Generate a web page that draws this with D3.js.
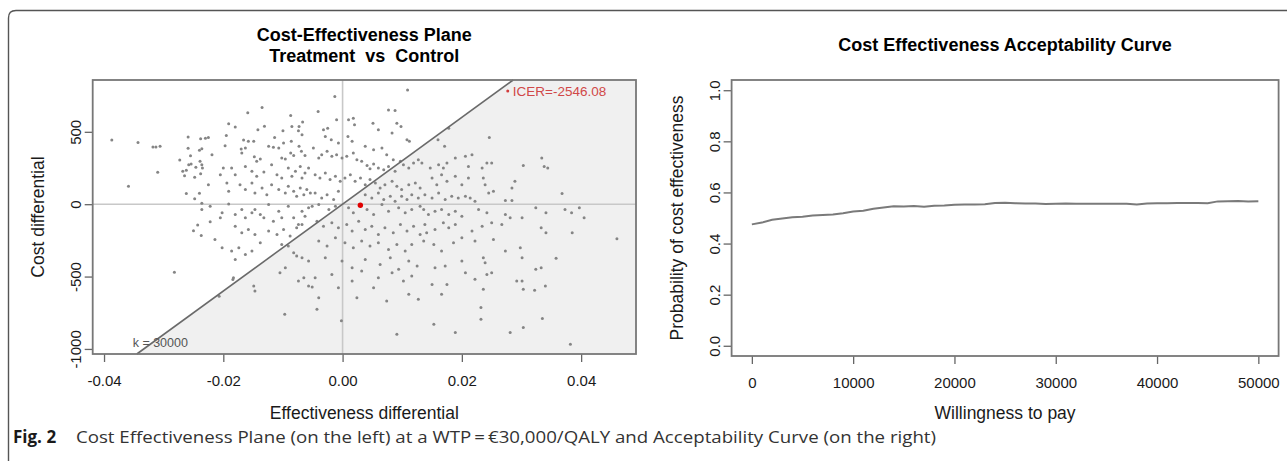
<!DOCTYPE html>
<html>
<head>
<meta charset="utf-8">
<script src="https://cdn.jsdelivr.net/npm/d3@7"></script>
<style>
  body { margin: 0; background: #fff; }
  text { font-family: "Liberation Sans", Arial, sans-serif; }
</style>
</head>
<body>
<div id="fig"></div>
<script>
// incremental effect / incremental cost pairs
var simDraws = [
  [-0.0387,443],[-0.0343,427],[-0.0318,395],[-0.0313,395],[-0.0306,400],[-0.031,220],[-0.0359,124],[-0.0259,464],
  [-0.0238,452],[-0.0259,386],[-0.024,372],[-0.0236,383],[-0.0255,335],[-0.0273,305],[-0.0258,273],[-0.0254,278],
  [-0.0239,296],[-0.0236,273],[-0.0268,227],[-0.0262,234],[-0.0246,255],[-0.0265,197],[-0.0248,186],[-0.0238,211],
  [-0.0262,73],[-0.024,76],[-0.0248,37],[-0.0236,7],[-0.0243,-143],[-0.025,-184],[-0.0237,-216],[-0.0282,-471],
  [-0.0135,668],[-0.0159,631],[-0.0191,555],[-0.018,534],[-0.0087,613],[-0.0142,514],[-0.0131,539],[-0.01,507],
  [-0.0085,537],[-0.0073,537],[-0.0067,567],[-0.023,455],[-0.0225,461],[-0.0195,475],[-0.0166,443],[-0.0158,434],
  [-0.0149,434],[-0.0114,461],[-0.0099,422],[-0.0086,434],[-0.0074,507],[-0.0068,479],[-0.0197,404],[-0.017,381],
  [-0.0163,388],[-0.0169,353],[-0.0148,328],[-0.0144,296],[-0.0138,312],[-0.0124,400],[-0.0116,393],[-0.0107,388],
  [-0.0102,319],[-0.0096,312],[-0.0087,353],[-0.0082,337],[-0.0073,400],[-0.0069,365],[-0.0063,337],[-0.0219,342],
  [-0.0235,250],[-0.0205,204],[-0.02,250],[-0.0186,250],[-0.018,204],[-0.0163,261],[-0.0152,227],[-0.0144,193],
  [-0.0132,222],[-0.0119,273],[-0.011,204],[-0.0102,181],[-0.0091,250],[-0.0085,193],[-0.0079,227],[-0.0071,261],
  [-0.0068,181],[-0.0063,216],[-0.0057,250],[-0.0225,135],[-0.0191,90],[-0.0194,147],[-0.0172,135],[-0.0163,101],
  [-0.0152,147],[-0.0147,78],[-0.0135,112],[-0.0127,66],[-0.0119,135],[-0.0107,101],[-0.0096,78],[-0.0091,124],
  [-0.0082,90],[-0.0077,55],[-0.0071,112],[-0.0065,66],[-0.006,101],[-0.0054,78],[-0.0236,-37],[-0.0222,-14],
  [-0.0202,-60],[-0.0191,2],[-0.018,-72],[-0.0169,-37],[-0.0163,-94],[-0.0152,-60],[-0.0147,-37],[-0.0138,-72],
  [-0.0132,-94],[-0.0124,-3],[-0.0116,-117],[-0.0107,-48],[-0.0102,-94],[-0.0091,-14],[-0.0082,-94],[-0.0074,-140],
  [-0.0068,-48],[-0.0063,-83],[-0.0057,-25],[-0.0222,-122],[-0.0205,-94],[-0.018,-152],[-0.0169,-198],[-0.0158,-175],
  [-0.0147,-209],[-0.0124,-186],[-0.011,-209],[-0.0099,-175],[-0.0088,-220],[-0.0077,-163],[-0.0068,-140],[-0.0214,-244],
  [-0.0202,-301],[-0.0186,-324],[-0.018,-382],[-0.0174,-301],[-0.0163,-347],[-0.0152,-324],[-0.0138,-267],[-0.0102,-278],
  [-0.0091,-289],[-0.0082,-335],[-0.0077,-358],[-0.0068,-370],[-0.0057,-393],[-0.0183,-508],[-0.0149,-565],[-0.0147,-599],
  [-0.0105,-473],[-0.0096,-439],[-0.0074,-530],[-0.0065,-508],[-0.0057,-565],[-0.0051,-572],[-0.0097,-760],[-0.0207,-636],
  [-0.0184,-521],
  [-0.0013,744],[0.0109,789],[-0.0041,640],[0.001,583],[0.0018,594],[0.002,548],[0.0077,651],[0.0088,647],
  [0.0051,560],[0.006,514],[0.0091,560],[0.0098,537],[-0.0032,514],[-0.0025,525],[-0.0029,468],[-0.0019,445],
  [-0.001,583],[-0.0007,422],[0.0009,468],[0.0016,434],[0.0083,491],[0.0108,445],[0.0112,434],[0.0038,400],
  [0.0052,376],[0.0066,388],[0.0074,342],[0.0085,307],[0.0097,296],[-0.0049,388],[-0.004,319],[-0.0035,342],
  [-0.0026,365],[-0.0018,331],[-0.001,342],[-0.0001,319],[0.0007,331],[0.0018,353],[0.0024,307],[0.0032,296],
  [0.0041,268],[0.0046,245],[0.0052,278],[0.006,250],[0.0069,238],[0.0077,261],[0.0088,227],[0.0102,273],
  [0.0111,250],[0.0119,284],[0.0127,307],[-0.0046,204],[-0.0038,181],[-0.0029,216],[-0.0021,170],[-0.0012,193],
  [-0.0004,158],[0.0004,181],[0.0013,204],[0.0021,158],[0.003,181],[0.0038,135],[0.0046,170],[0.0055,147],
  [0.0063,112],[0.0071,135],[0.0083,158],[0.0091,124],[0.0099,101],[0.0111,135],[0.0122,147],[0.013,112],
  [-0.0046,78],[-0.0035,43],[-0.0026,66],[-0.0015,32],[-0.0007,90],[0.0038,66],[0.0049,43],[0.006,78],
  [0.0069,32],[0.008,55],[0.0088,21],[0.0099,55],[0.0108,32],[0.0116,66],[0.0127,43],[-0.0051,-14],
  [-0.004,-3],[-0.0023,-37],[-0.0012,-14],[0.001,-25],[0.0018,-60],[0.0041,-37],[0.0052,-72],[0.0066,-3],
  [0.0077,-48],[0.0094,-25],[0.0105,-60],[0.0116,-37],[0.013,-14],[-0.0043,-117],[-0.0032,-152],[-0.0018,-129],
  [-0.0007,-163],[0.0007,-140],[0.0016,-186],[0.0027,-117],[0.0038,-175],[0.0049,-152],[0.006,-209],[0.0071,-163],
  [0.0085,-198],[0.0097,-140],[0.0108,-186],[0.0119,-152],[0.013,-209],[-0.004,-255],[-0.0026,-289],[-0.0012,-232],
  [0.0004,-267],[0.0018,-301],[0.0032,-255],[0.0046,-289],[0.006,-267],[0.0077,-313],[0.0091,-278],[0.0105,-324],
  [0.0116,-278],[-0.0029,-370],[-0.0001,-393],[0.0016,-439],[0.0038,-382],[0.0063,-416],[0.008,-370],[0.0094,-450],
  [0.0111,-393],[0.0125,-427],[-0.0046,-508],[-0.0018,-485],[0.0016,-530],[0.0032,-462],[0.006,-508],[0.0083,-473],
  [0.0102,-530],[0.0116,-496],[-0.004,-646],[-0.0007,-577],[0.0024,-646],[0.0052,-577],[0.0074,-668],[0.0111,-623],
  [0.0127,-657],[-0.0043,-726],[-0.0002,-806],[0.0091,-898],
  [0.0178,525],[0.016,445],[0.0171,400],[0.0246,461],[0.0133,284],[0.0147,250],[0.0161,273],[0.0169,250],
  [0.0175,284],[0.0189,319],[0.0206,331],[0.0217,342],[0.0211,261],[0.0234,250],[0.0242,284],[0.025,284],
  [0.0303,268],[0.015,181],[0.0158,135],[0.0166,204],[0.0175,158],[0.0189,193],[0.02,135],[0.0211,181],
  [0.0236,181],[0.0239,135],[0.0245,78],[0.0253,90],[0.0289,158],[0.0284,112],[0.0138,66],[0.015,43],
  [0.0161,78],[0.0172,32],[0.0183,55],[0.0194,43],[0.0206,55],[0.0214,43],[0.0222,21],[0.0273,25],
  [0.0284,25],[0.0136,-37],[0.0144,-72],[0.0155,-48],[0.0166,-37],[0.0178,-72],[0.0189,-48],[0.02,-83],
  [0.0228,-37],[0.0242,-60],[0.0273,-72],[0.0301,-94],[0.0138,-140],[0.0141,-198],[0.0155,-175],[0.0169,-129],
  [0.0178,-163],[0.0189,-140],[0.0217,-186],[0.0234,-152],[0.025,-129],[0.0267,-140],[0.0281,-94],[0.0136,-255],
  [0.0153,-278],[0.0166,-324],[0.0186,-267],[0.02,-232],[0.0222,-255],[0.0253,-244],[0.0273,-324],[0.0298,-301],
  [0.0155,-439],[0.0172,-427],[0.02,-393],[0.0236,-370],[0.0239,-405],[0.0301,-370],[0.015,-554],[0.0175,-554],
  [0.0206,-473],[0.0222,-519],[0.0242,-485],[0.025,-473],[0.0292,-530],[0.0301,-530],[0.0166,-623],[0.0236,-588],
  [0.0303,-588],[0.0153,-829],[0.0189,-887],[0.0232,-714],[0.0232,-795],[0.0281,-887],[0.0303,-852],
  [0.0334,319],[0.0338,261],[0.0344,250],[0.0368,73],[0.0324,-25],[0.0341,-60],[0.0373,-37],[0.0384,-60],
  [0.0397,-25],[0.0405,-94],[0.0333,-163],[0.0341,-198],[0.0385,-198],[0.046,-239],[0.0358,-374],[0.0324,-450],
  [0.0333,-439],[0.0322,-595],[0.034,-565],[0.0335,-790],[0.0382,-967]
];
var meanPoint = [0.00298, -7.6];
var icerText = "ICER=-2546.08";
var wtpThreshold = 30000;
var effTicks = [-0.04, -0.02, 0, 0.02, 0.04];
var costTicks = [-1000, -500, 0, 500];

// acceptability curve
var wtpValues = [0,1000,2000,3000,4000,5000,6000,7000,8000,9000,10000,11000,12000,13000,14000,15000,16000,17000,
  18000,19000,20000,21000,22000,23000,24000,25000,26000,27000,28000,29000,30000,31000,32000,33000,34000,35000,
  36000,37000,38000,39000,40000,41000,42000,43000,44000,45000,46000,47000,48000,49000,50000];
var probCE = [0.475,0.482,0.493,0.498,0.503,0.505,0.51,0.512,0.514,0.519,0.525,0.528,0.536,0.541,0.546,0.545,0.547,0.544,
  0.548,0.549,0.552,0.553,0.553,0.554,0.559,0.56,0.558,0.557,0.557,0.555,0.556,0.557,0.556,0.556,0.556,0.556,
  0.556,0.556,0.553,0.557,0.558,0.558,0.559,0.559,0.559,0.558,0.565,0.566,0.567,0.565,0.566];
var wtpTicks = [0, 10000, 20000, 30000, 40000, 50000];
var probTicks = [0, 0.2, 0.4, 0.6, 0.8, 1.0];

var W = 1287, H = 461;
var svg = d3.select("#fig").append("svg")
    .attr("width", W).attr("height", H);

// figure frame (top + left with rounded corner)
svg.append("path")
    .attr("d", "M8.5," + H + " L8.5,18 Q8.5,10.5 16,10.5 L" + W + ",10.5")
    .attr("fill", "none").attr("stroke", "#555").attr("stroke-width", 1.4);

var boxCol = "#777", tickFont = 15, labFont = 17.5, titleFont = 18;

function drawAxes(g, x, y, xt, yt, xfmt, yfmt) {
    var x0 = x.range()[0], x1 = x.range()[1], y0 = y.range()[0], y1 = y.range()[1];
    var ax = g.append("g").attr("transform", "translate(0," + y0 + ")")
        .call(d3.axisBottom(x).tickValues(xt).tickFormat(xfmt).tickSize(8).tickPadding(13));
    var ay = g.append("g").attr("transform", "translate(" + x0 + ",0)")
        .call(d3.axisLeft(y).tickValues(yt).tickFormat(yfmt).tickSize(8));
    [ax, ay].forEach(function (a) {
        a.select(".domain").remove();
        a.selectAll("line").attr("stroke", "#666").attr("stroke-width", 1.3);
        a.selectAll("text").attr("fill", "#1a1a1a").style("font-size", tickFont + "px")
            .style("font-family", '"Liberation Sans", Arial, sans-serif');
    });
    // R style: y labels parallel to the axis
    ay.selectAll("text")
        .attr("x", 0).attr("y", 0).attr("dy", "0.35em")
        .attr("text-anchor", "middle")
        .attr("transform", "translate(-17,0) rotate(-90)");
    g.append("rect")
        .attr("x", x0).attr("y", y1).attr("width", x1 - x0).attr("height", y0 - y1)
        .attr("fill", "none").attr("stroke", boxCol).attr("stroke-width", 1.8);
}

// ---------- left: cost-effectiveness plane ----------
var xL = d3.scaleLinear().domain([-0.0419, 0.0492]).range([92.7, 636]);
var yL = d3.scaleLinear().domain([-1035, 858]).range([354, 80]);
var gL = svg.append("g");

var yBot = yL.domain()[0], yTop = yL.domain()[1];
var shade = [
    [xL(yBot / wtpThreshold), yL(yBot)],
    [xL(yTop / wtpThreshold), yL(yTop)],
    [xL.range()[1], yL(yTop)],
    [xL.range()[1], yL(yBot)]
];
gL.append("path").attr("d", d3.line()(shade) + "Z").attr("fill", "#f0f0f0");

gL.append("line").attr("x1", xL(0)).attr("x2", xL(0)).attr("y1", yL(yTop)).attr("y2", yL(yBot))
    .attr("stroke", "#c8c8c8").attr("stroke-width", 1.6);
gL.append("line").attr("x1", xL.range()[0]).attr("x2", xL.range()[1]).attr("y1", yL(0)).attr("y2", yL(0))
    .attr("stroke", "#c8c8c8").attr("stroke-width", 1.6);

gL.append("g").selectAll("circle")
    .data(simDraws).enter().append("circle")
    .attr("cx", function (d) { return xL(d[0]); })
    .attr("cy", function (d) { return yL(d[1]); })
    .attr("r", 1.5)
    .attr("fill", "#858585");

gL.append("line")
    .attr("x1", shade[0][0]).attr("y1", shade[0][1])
    .attr("x2", shade[1][0]).attr("y2", shade[1][1])
    .attr("stroke", "#6a6a6a").attr("stroke-width", 1.6);

gL.append("circle").attr("cx", xL(meanPoint[0])).attr("cy", yL(meanPoint[1])).attr("r", 2.7).attr("fill", "#e00000");

gL.append("circle").attr("cx", xL(0.0277)).attr("cy", yL(782)).attr("r", 1.5).attr("fill", "#d23c3c");
gL.append("text").attr("x", xL(0.0277) + 5).attr("y", yL(782) + 5)
    .attr("fill", "#d04848").style("font-size", "13.5px").text(icerText);

gL.append("text").attr("x", xL(-0.0352)).attr("y", yL(-958) + 4.5)
    .attr("fill", "#555").style("font-size", "12.5px").style("white-space", "pre").text("k = 30000");

drawAxes(gL, xL, yL, effTicks, costTicks, function (d) { return d.toFixed(2); }, function (d) { return String(d); });

var cxL = (xL.range()[0] + xL.range()[1]) / 2;
gL.append("text").attr("x", cxL).attr("y", 41).attr("text-anchor", "middle")
    .style("font-weight", "bold").style("font-size", titleFont + "px").text("Cost-Effectiveness Plane");
gL.append("text").attr("x", cxL).attr("y", 62).attr("text-anchor", "middle").style("white-space", "pre")
    .style("font-weight", "bold").style("font-size", titleFont + "px").text("Treatment  vs  Control");
gL.append("text").attr("x", cxL).attr("y", 419).attr("text-anchor", "middle")
    .style("font-size", labFont + "px").attr("fill", "#1a1a1a").text("Effectiveness differential");
gL.append("text").attr("transform", "translate(" + (xL.range()[0] - 49) + "," + ((yL.range()[0] + yL.range()[1]) / 2) + ") rotate(-90)")
    .attr("text-anchor", "middle").style("font-size", labFont + "px").attr("fill", "#1a1a1a").text("Cost differential");

// ---------- right: acceptability curve ----------
var xR = d3.scaleLinear().domain([-2000, 52000]).range([731.6, 1278.6]);
var yR = d3.scaleLinear().domain([-0.04, 1.04]).range([356, 80]);
var gR = svg.append("g");

gR.append("path")
    .datum(wtpValues.map(function (w, i) { return [w, probCE[i]]; }))
    .attr("d", d3.line().x(function (d) { return xR(d[0]); }).y(function (d) { return yR(d[1]); }))
    .attr("fill", "none").attr("stroke", "#7a7a7a").attr("stroke-width", 2);

drawAxes(gR, xR, yR, wtpTicks, probTicks, function (d) { return String(d); }, function (d) { return d.toFixed(1); });

var cxR = (xR.range()[0] + xR.range()[1]) / 2;
gR.append("text").attr("x", cxR).attr("y", 51).attr("text-anchor", "middle")
    .style("font-weight", "bold").style("font-size", titleFont + "px").text("Cost Effectiveness Acceptability Curve");
gR.append("text").attr("x", cxR).attr("y", 419).attr("text-anchor", "middle")
    .style("font-size", labFont + "px").attr("fill", "#1a1a1a").text("Willingness to pay");
gR.append("text").attr("transform", "translate(" + (xR.range()[0] - 49) + "," + ((yR.range()[0] + yR.range()[1]) / 2) + ") rotate(-90)")
    .attr("text-anchor", "middle").style("font-size", labFont + "px").attr("fill", "#1a1a1a").text("Probability of cost effectiveness");

// ---------- caption ----------
var capFont = '"Open Sans", "Noto Sans", sans-serif';
svg.append("text").attr("x", 13).attr("y", 443)
    .style("font-family", capFont).style("font-size", "17px").style("font-weight", "bold")
    .attr("fill", "#1a1a1a").text("Fig. 2");
svg.append("text").attr("x", 76).attr("y", 443)
    .style("font-family", capFont).style("font-size", "17px").attr("fill", "#333")
    .attr("textLength", 860).attr("lengthAdjust", "spacingAndGlyphs")
    .text("Cost Effectiveness Plane (on the left) at a WTP\u2009=\u2009\u20ac30,000/QALY and Acceptability Curve (on the right)");
</script>
</body>
</html>
